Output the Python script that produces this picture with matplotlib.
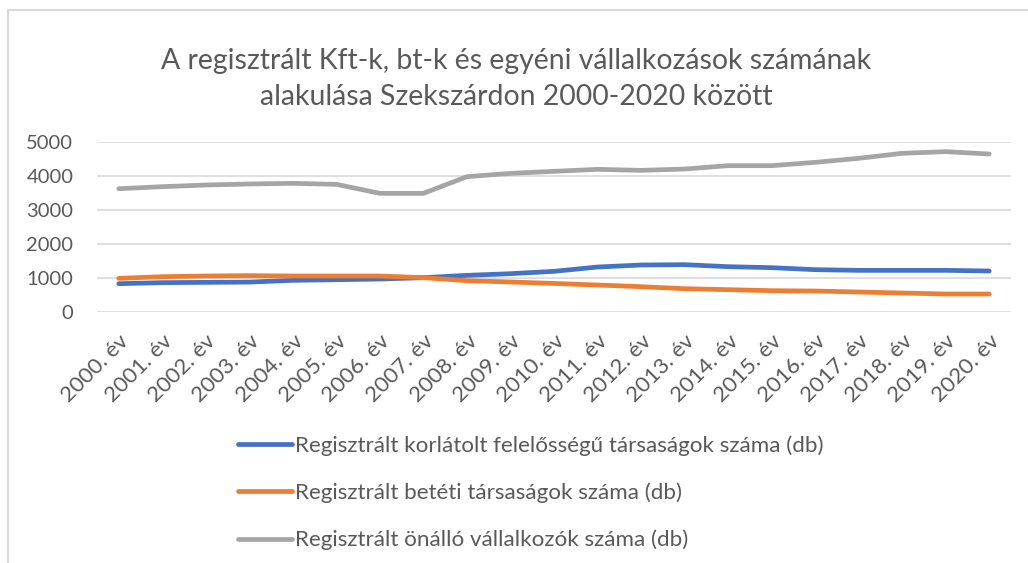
import matplotlib.pyplot as plt
from matplotlib.lines import Line2D

# vállalkozások száma Szekszárdon (db)
years = [f"{y}. év" for y in range(2000, 2021)]
kft = [833, 863, 872, 880, 931, 950, 970, 1010, 1078, 1127, 1196,
       1323, 1382, 1392, 1333, 1304, 1245, 1225, 1225, 1225, 1206]
bt = [990, 1039, 1059, 1069, 1059, 1059, 1059, 1010, 922, 883, 840,
      794, 745, 686, 657, 627, 617, 588, 559, 529, 529]
egyeni = [3626, 3686, 3735, 3765, 3784, 3755, 3490, 3490, 3980, 4078, 4137,
          4196, 4166, 4205, 4304, 4304, 4402, 4520, 4667, 4716, 4647]

labels = ["Regisztrált korlátolt felelősségű társaságok száma (db)",
          "Regisztrált betéti társaságok száma (db)",
          "Regisztrált önálló vállalkozók száma (db)"]
colors = ["#4472C4", "#ED7D31", "#A5A5A5"]

plt.rcParams['font.family'] = ['Lato', 'DejaVu Sans']
txt = "#595959"

W, H = 1028, 563
fig = plt.figure(figsize=(W / 100, H / 100), dpi=100)
ax = fig.add_axes([97 / W, (H - 312) / H, (1011 - 97) / W, 170 / H])

x = range(len(years))
for vals, lab, col in zip([kft, bt, egyeni], labels, colors):
    ax.plot(x, vals, color=col, lw=3.4, solid_capstyle='round',
            solid_joinstyle='round', label=lab)

ax.set_xlim(-0.5, len(years) - 0.5)
ax.set_ylim(0, 5000)
ax.set_yticks(range(0, 5001, 1000))
ax.yaxis.grid(True, color="#D9D9D9", lw=1.2)
ax.set_axisbelow(True)
for s in ax.spines.values():
    s.set_visible(False)
ax.tick_params(length=0, labelsize=14.5, colors=txt)
ax.tick_params(axis='y', pad=17)
ax.set_xticks(list(x))
ax.set_xticklabels(years, rotation=45, ha='right', rotation_mode='anchor',
                   fontsize=16)
ax.tick_params(axis='x', pad=14)

fig.text(516 / W, (H - 79) / H,
         "A regisztrált Kft-k, bt-k és egyéni vállalkozások számának\n"
         "alakulása Szekszárdon 2000-2020 között",
         ha='center', va='center', fontsize=20.4, color=txt, linespacing=1.45)

fig.legend(loc='upper left', bbox_to_anchor=(229 / W, (H - 426) / H),
           frameon=False, fontsize=16.1, labelcolor=txt, handlelength=2.4,
           handletextpad=0.15, labelspacing=1.2, borderaxespad=0)

# keret a diagram körül
fig.add_artist(Line2D([8 / W, 8 / W], [0, (H - 10) / H], color="#D9D9D9", lw=1.5))
fig.add_artist(Line2D([8 / W, 1], [(H - 10) / H, (H - 10) / H], color="#D9D9D9", lw=1.5))

fig.savefig("out.png", dpi=100)
